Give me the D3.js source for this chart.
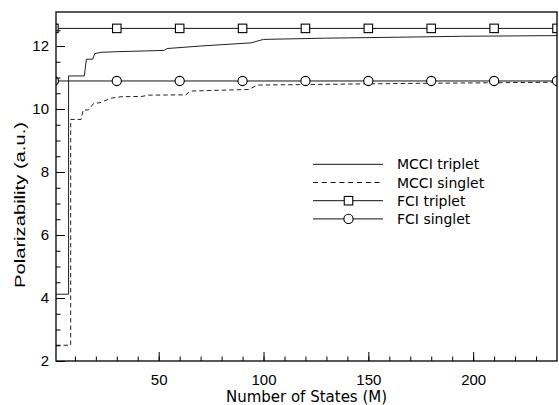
<!DOCTYPE html>
<html>
<head>
<meta charset="utf-8">
<script src="https://cdn.jsdelivr.net/npm/d3@7"></script>
<style>
  html, body { margin: 0; padding: 0; background: #fff; }
  svg { display: block; }
</style>
</head>
<body>
<svg id="chart" width="559" height="405"></svg>
<script>
// Number of states M and polarizability values (a.u.) for the MCCI runs
const mcciTripletM   = [1, 7, 7, 14.5, 15.5, 18.5, 19.5, 22.5, 30, 52.5, 54, 70, 94, 100, 130, 165, 195, 240];
const mcciTripletVal = [4.12, 4.12, 11.05, 11.05, 11.58, 11.58, 11.76, 11.8, 11.82, 11.86, 11.92, 12.0, 12.1, 12.21, 12.25, 12.28, 12.31, 12.33];

const mcciSingletM   = [1, 8, 8, 13, 14, 16.5, 19, 22, 27, 32, 42, 45, 63, 65, 93, 97, 125, 165, 240];
const mcciSingletVal = [2.5, 2.5, 9.67, 9.67, 9.97, 9.97, 10.18, 10.2, 10.34, 10.39, 10.4, 10.44, 10.45, 10.57, 10.62, 10.76, 10.78, 10.81, 10.85];

// Full CI reference values, drawn as flat lines with markers
const fciM          = [0, 30, 60, 90, 120, 150, 180, 210, 240];
const fciTripletVal = 12.56;
const fciSingletVal = 10.89;

const xTicks = [50, 100, 150, 200];
const yTicks = [2, 4, 6, 8, 10, 12];
const legendLabels = ["MCCI triplet", "MCCI singlet", "FCI triplet", "FCI singlet"];

const svg = d3.select("#chart");
const pLeft = 56, pRight = 557, pTop = 12, pBottom = 361;

const x = d3.scaleLinear().domain([1, 240]).range([pLeft, pRight]);
const y = d3.scaleLinear().domain([2, 13.08]).range([pBottom, pTop]);

svg.append("defs").append("clipPath").attr("id", "plotClip")
  .append("rect").attr("x", pLeft).attr("y", pTop)
  .attr("width", pRight - pLeft).attr("height", pBottom - pTop);

const plot = svg.append("g").attr("clip-path", "url(#plotClip)");

const line = d3.line().x(d => x(d[0])).y(d => y(d[1]));

const triplet = mcciTripletM.map((m, i) => [m, mcciTripletVal[i]]);
const singlet = mcciSingletM.map((m, i) => [m, mcciSingletVal[i]]);

plot.append("path").datum(triplet).attr("d", line)
  .attr("fill", "none").attr("stroke", "#222").attr("stroke-width", 1);
plot.append("path").datum(singlet).attr("d", line)
  .attr("fill", "none").attr("stroke", "#222").attr("stroke-width", 1)
  .attr("stroke-dasharray", "4.5,3");

// FCI lines
const fciT = fciM.map(m => [m, fciTripletVal]);
const fciS = fciM.map(m => [m, fciSingletVal]);
plot.append("path").datum(fciT).attr("d", line)
  .attr("fill", "none").attr("stroke", "#111").attr("stroke-width", 1);
plot.append("path").datum(fciS).attr("d", line)
  .attr("fill", "none").attr("stroke", "#111").attr("stroke-width", 1);

const sq = 8.5;
plot.selectAll("rect.fciT").data(fciT).enter().append("rect")
  .attr("class", "fciT")
  .attr("x", d => x(d[0]) - sq / 2).attr("y", d => y(d[1]) - sq / 2)
  .attr("width", sq).attr("height", sq)
  .attr("fill", "#fff").attr("stroke", "#000").attr("stroke-width", 1.1);
plot.selectAll("circle.fciS").data(fciS).enter().append("circle")
  .attr("class", "fciS")
  .attr("cx", d => x(d[0])).attr("cy", d => y(d[1])).attr("r", 4.6)
  .attr("fill", "#fff").attr("stroke", "#000").attr("stroke-width", 1.1);

// Axes with inward ticks
const xAxis = svg.append("g").attr("transform", `translate(0,${pBottom})`)
  .call(d3.axisBottom(x).tickValues(d3.range(10, 240, 10)).tickSize(-4.5).tickFormat(""));
const xMajor = svg.append("g").attr("transform", `translate(0,${pBottom})`)
  .call(d3.axisBottom(x).tickValues(xTicks).tickSize(-9).tickPadding(13).tickFormat(d3.format("d")));
const yAxis = svg.append("g").attr("transform", `translate(${pLeft},0)`)
  .call(d3.axisLeft(y).tickValues(d3.range(2.5, 13, 0.5)).tickSize(-4.5).tickFormat(""));
const yMajor = svg.append("g").attr("transform", `translate(${pLeft},0)`)
  .call(d3.axisLeft(y).tickValues(yTicks).tickSize(-9).tickPadding(7).tickFormat(d3.format("d")));

[xAxis, xMajor, yAxis, yMajor].forEach(g => {
  g.select(".domain").remove();
  g.selectAll(".tick line").attr("stroke", "#000").attr("stroke-width", 1);
  g.selectAll("text").attr("fill", "#000")
    .style("font-family", "'Liberation Sans', Arial, sans-serif").style("font-size", "15px");
});

// Frame
svg.append("rect").attr("x", pLeft).attr("y", pTop)
  .attr("width", pRight - pLeft).attr("height", pBottom - pTop)
  .attr("fill", "none").attr("stroke", "#000").attr("stroke-width", 1.3);

// Axis titles
svg.append("text")
  .attr("x", (pLeft + pRight) / 2).attr("y", 402)
  .attr("text-anchor", "middle")
  .style("font-family", "'DejaVu Sans', Verdana, sans-serif").style("font-size", "15px")
  .text("Number of States (M)");

svg.append("text")
  .attr("transform", "translate(25,205) rotate(-90)")
  .attr("text-anchor", "middle")
  .attr("textLength", 166).attr("lengthAdjust", "spacingAndGlyphs")
  .style("font-family", "'Liberation Sans', Arial, sans-serif").style("font-size", "14.5px")
  .text("Polarizability (a.u.)");

// Legend
const legX1 = 313, legX2 = 383, legTextX = 397, legY0 = 164.3, legDy = 18.2;
const leg = svg.append("g");
legendLabels.forEach((label, i) => {
  const yy = legY0 + i * legDy;
  const ln = leg.append("line").attr("x1", legX1).attr("x2", legX2)
    .attr("y1", yy).attr("y2", yy).attr("stroke", "#111").attr("stroke-width", 1);
  if (i === 1) ln.attr("stroke-dasharray", "5,3.8");
  const cx = (legX1 + legX2) / 2 + 0.5;
  if (i === 2) {
    leg.append("rect").attr("x", cx - sq / 2).attr("y", yy - sq / 2)
      .attr("width", sq).attr("height", sq)
      .attr("fill", "#fff").attr("stroke", "#000").attr("stroke-width", 1.1);
  }
  if (i === 3) {
    leg.append("circle").attr("cx", cx).attr("cy", yy).attr("r", 4.6)
      .attr("fill", "#fff").attr("stroke", "#000").attr("stroke-width", 1.1);
  }
  leg.append("text").attr("x", legTextX).attr("y", yy + 5)
    .style("font-family", "'DejaVu Sans', Verdana, sans-serif").style("font-size", "14px")
    .text(label);
});
</script>
</body>
</html>
